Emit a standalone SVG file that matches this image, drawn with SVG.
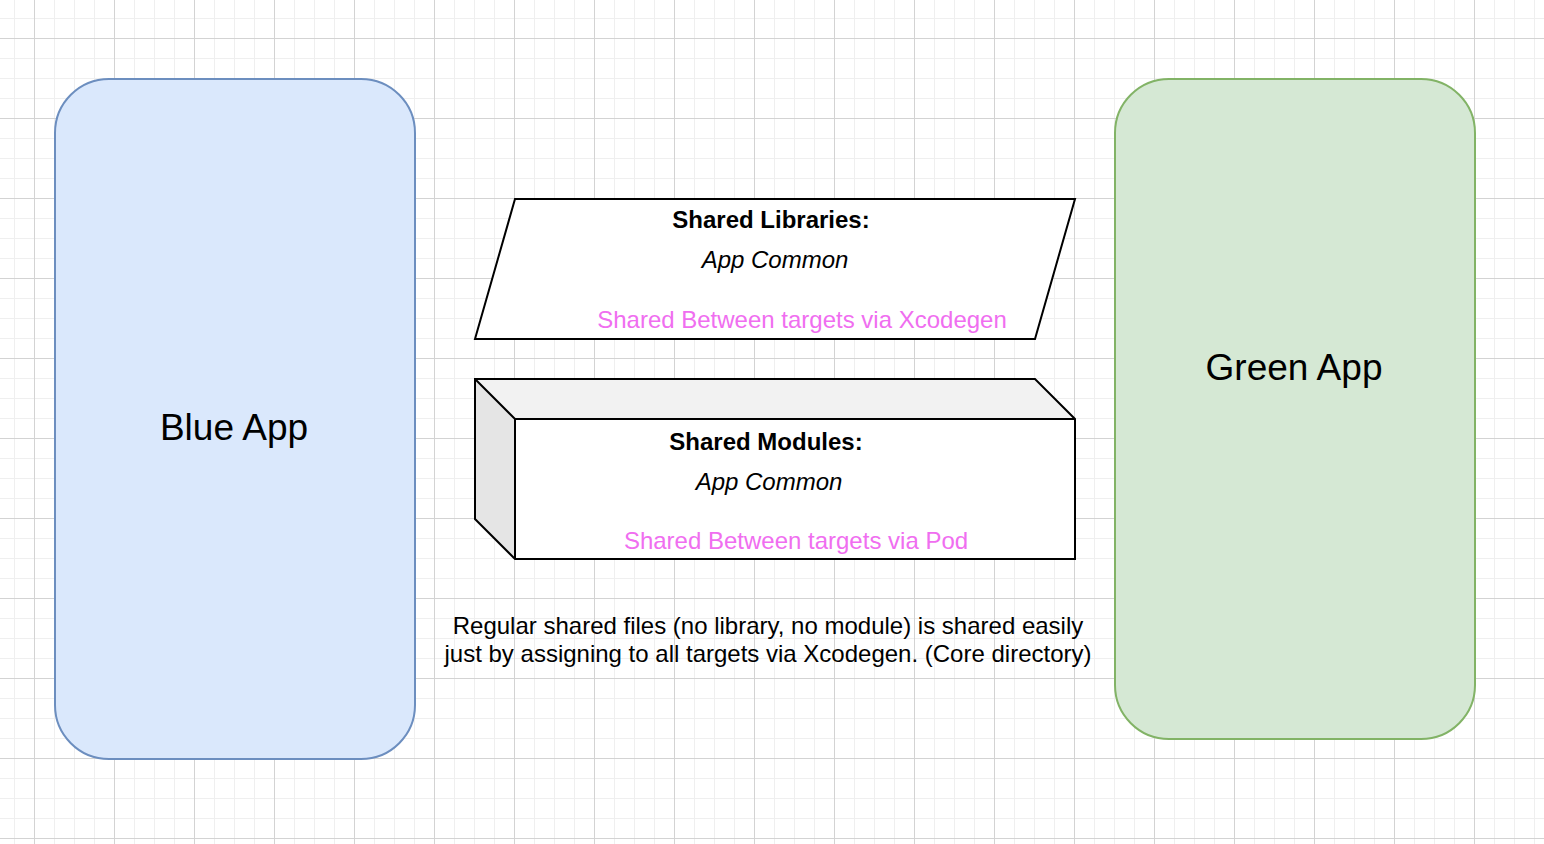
<svg xmlns="http://www.w3.org/2000/svg" width="1544" height="844" viewBox="0 0 1544 844">
  <defs>
    <pattern id="grid" x="34" y="38" width="80" height="80" patternUnits="userSpaceOnUse">
      <path d="M20.5 0V80M40.5 0V80M60.5 0V80M0 20.5H80M0 40.5H80M0 60.5H80" stroke="#efefef" stroke-width="1" fill="none"/>
      <path d="M0.5 0V80M0 0.5H80" stroke="#d3d3d3" stroke-width="1" fill="none"/>
    </pattern>
    <style>
      text { font-family: "Liberation Sans", Arial, Helvetica, sans-serif; fill: #000; text-anchor: middle; }
      .big { font-size: 37px; }
      .t { font-size: 24px; }
      .b { font-weight: bold; }
      .i { font-style: italic; }
      .pink { fill: #f06ef0; }
      .edge { stroke: #000; stroke-width: 2; stroke-linejoin: miter; }
    </style>
  </defs>
  <rect width="1544" height="844" fill="#ffffff"/>
  <rect width="1544" height="844" fill="url(#grid)"/>

  <g id="blue-app">
    <rect x="55" y="79" width="360" height="680" rx="54" ry="54" fill="#dae8fc" stroke="#6c8ebf" stroke-width="2"/>
    <text class="big" x="234" y="440">Blue App</text>
  </g>

  <g id="green-app">
    <rect x="1115" y="79" width="360" height="660" rx="54" ry="54" fill="#d5e8d4" stroke="#82b366" stroke-width="2"/>
    <text class="big" x="1294" y="380">Green App</text>
  </g>

  <g id="shared-libraries">
    <polygon class="edge" points="515,199 1075,199 1035,339 475,339" fill="#ffffff"/>
    <text class="t b" x="771" y="228">Shared Libraries:</text>
    <text class="t i" x="775" y="268">App Common</text>
    <text class="t pink" x="802" y="328">Shared Between targets via Xcodegen</text>
  </g>

  <g id="shared-modules">
    <polygon points="515,419 1075,419 1075,559 515,559" fill="#ffffff"/>
    <polygon points="475,379 1035,379 1075,419 515,419" fill="#f2f2f2"/>
    <polygon points="475,379 515,419 515,559 475,519" fill="#e5e5e5"/>
    <polygon class="edge" points="475,379 1035,379 1075,419 1075,559 515,559 475,519" fill="none"/>
    <path class="edge" d="M475 379L515 419H1075M515 419V559" fill="none"/>
    <text class="t b" x="766" y="450">Shared Modules:</text>
    <text class="t i" x="769" y="490">App Common</text>
    <text class="t pink" x="796" y="549">Shared Between targets via Pod</text>
  </g>

  <g id="note">
    <text class="t" x="768" y="634">Regular shared files (no library, no module) is shared easily</text>
    <text class="t" x="768" y="662">just by assigning to all targets via Xcodegen. (Core directory)</text>
  </g>

  <g id="connectors"></g>
</svg>
